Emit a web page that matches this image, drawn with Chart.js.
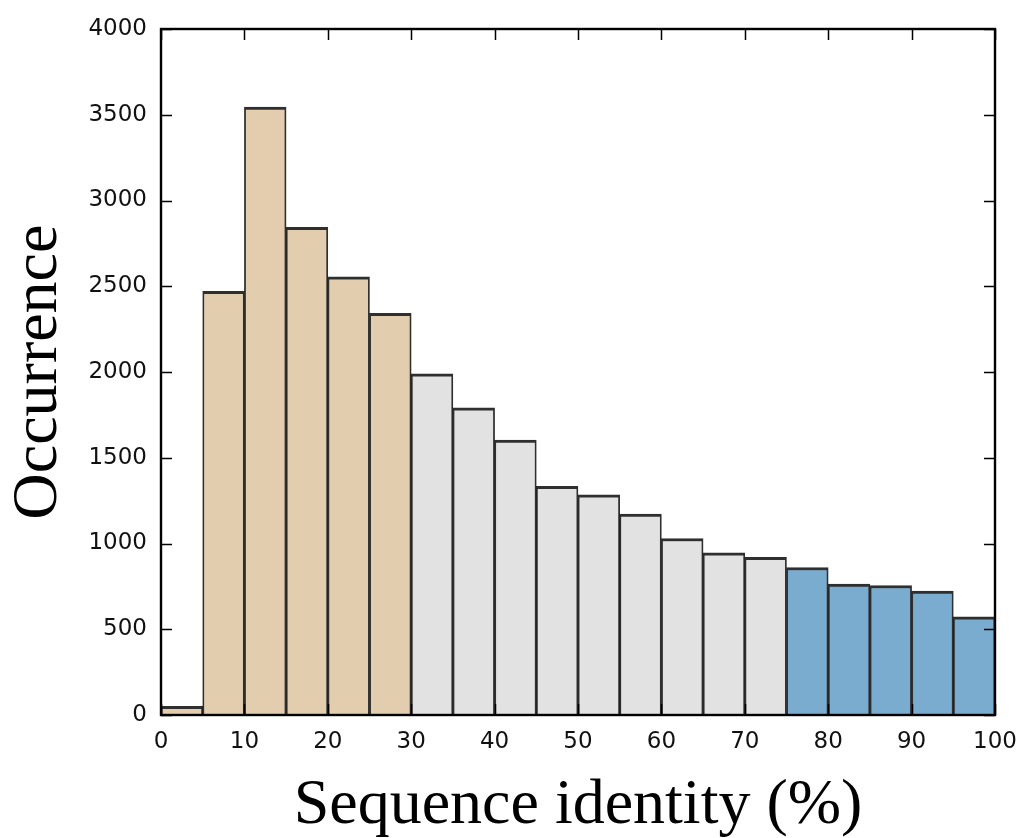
<!DOCTYPE html>
<html>
<head>
<meta charset="utf-8">
<script src="https://cdn.jsdelivr.net/npm/chart.js@4/dist/chart.umd.min.js"></script>
<style>
  html, body { margin: 0; padding: 0; background: #ffffff; }
  #wrap { width: 1019px; height: 838px; position: relative; }
</style>
</head>
<body>
<div id="wrap"><canvas id="c" width="1019" height="838"></canvas></div>
<script>
// Histogram bins (centres, % sequence identity), 5-wide
const binCenters = [2.5, 7.5, 12.5, 17.5, 22.5, 27.5, 32.5, 37.5, 42.5, 47.5,
                    52.5, 57.5, 62.5, 67.5, 72.5, 77.5, 82.5, 87.5, 92.5, 97.5];
// Occurrence per bin
const counts = [51, 2470, 3544, 2844, 2555, 2342, 1990, 1791, 1603, 1334,
                1284, 1171, 1029, 945, 920, 860, 763, 755, 723, 572];
// Identity group per bin
const groups = ['low', 'low', 'low', 'low', 'low', 'low',
                'mid', 'mid', 'mid', 'mid', 'mid', 'mid', 'mid', 'mid', 'mid',
                'high', 'high', 'high', 'high', 'high'];
const groupColors = { low: '#e3cdaf', mid: '#e2e2e2', high: '#7aaccf' };
const xTicks = [0, 10, 20, 30, 40, 50, 60, 70, 80, 90, 100];
const yTicks = [0, 500, 1000, 1500, 2000, 2500, 3000, 3500, 4000];

const frameTicks = {
  id: 'frameTicks',
  afterDatasetsDraw(chart) {
    const { ctx, chartArea: a, scales } = chart;
    ctx.save();
    ctx.strokeStyle = '#000';
    ctx.lineWidth = 1.5;
    const L = 11;
    ctx.beginPath();
    xTicks.forEach(v => {
      const px = Math.round(scales.x.getPixelForValue(v)) + 0.5;
      ctx.moveTo(px, a.bottom); ctx.lineTo(px, a.bottom - L);
      ctx.moveTo(px, a.top); ctx.lineTo(px, a.top + L);
    });
    yTicks.forEach(v => {
      const py = Math.round(scales.y.getPixelForValue(v)) + 0.5;
      ctx.moveTo(a.left, py); ctx.lineTo(a.left + L, py);
      ctx.moveTo(a.right, py); ctx.lineTo(a.right - L, py);
    });
    ctx.stroke();
    ctx.lineWidth = 2.4;
    ctx.strokeRect(a.left, a.top, a.right - a.left, a.bottom - a.top);
    ctx.restore();
  }
};

new Chart(document.getElementById('c'), {
  type: 'bar',
  data: {
    datasets: [{
      data: binCenters.map((c, i) => ({ x: c, y: counts[i] })),
      backgroundColor: groups.map(g => groupColors[g]),
      borderColor: 'rgba(10,10,10,0.85)',
      borderWidth: { top: 3, left: 1.8, right: 1.8, bottom: 0 },
      borderSkipped: false,
      categoryPercentage: 1,
      barPercentage: 1
    }]
  },
  options: {
    responsive: false,
    animation: false,
    events: [],
    layout: { padding: { top: 29, right: 24, left: 0, bottom: 0 } },
    plugins: { legend: { display: false }, tooltip: { enabled: false } },
    scales: {
      x: {
        type: 'linear',
        offset: false,
        min: 0, max: 100,
        afterBuildTicks(s) { s.ticks = xTicks.map(v => ({ value: v })); },
        grid: { display: false },
        border: { display: false },
        ticks: {
          padding: 5,
          color: '#111',
          maxRotation: 0,
          callback: v => String(v),
          font: { family: 'DejaVu Sans', size: 23 }
        },
        title: {
          display: true,
          text: 'Sequence identity (%)',
          color: '#000',
          font: { family: 'Liberation Serif', size: 64, lineHeight: 1 },
          padding: { top: 0, bottom: 0 }
        },
        afterFit(s) { s.height = 123; s.paddingLeft = 0; s.paddingRight = 0; }
      },
      y: {
        min: 0, max: 4000,
        afterBuildTicks(s) { s.ticks = yTicks.map(v => ({ value: v })); },
        grid: { display: false },
        border: { display: false },
        ticks: {
          padding: 6,
          color: '#111',
          callback: v => String(v),
          font: { family: 'DejaVu Sans', size: 23 }
        },
        title: {
          display: true,
          text: 'Occurrence',
          color: '#000',
          font: { family: 'Liberation Serif', size: 64, lineHeight: 1 },
          padding: { top: 7, bottom: 0 }
        },
        afterFit(s) { s.width = 161; s.paddingTop = 0; s.paddingBottom = 0; }
      }
    }
  },
  plugins: [frameTicks]
});
</script>
</body>
</html>
